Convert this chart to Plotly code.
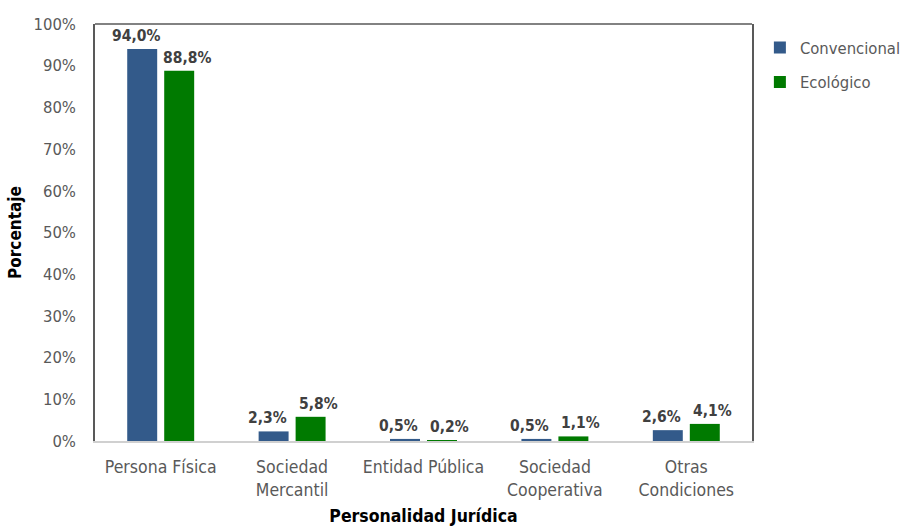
import plotly.graph_objects as go

categories = ["Persona Física", "Sociedad<br>Mercantil", "Entidad Pública",
              "Sociedad<br>Cooperativa", "Otras<br>Condiciones"]
convencional = [94.0, 2.3, 0.5, 0.5, 2.6]
ecologico = [88.8, 5.8, 0.2, 1.1, 4.1]
y_ticks = list(range(0, 101, 10))
y_tick_labels = [f"{v}%" for v in y_ticks]

FONT = "DejaVu Sans Condensed, Liberation Sans Narrow, Arial Narrow, Arial, sans-serif"
GRAY = "#595959"
LABEL_GRAY = "#404040"

series = [("Convencional", convencional, "#335A8A", -25),
          ("Ecológico", ecologico, "#007A00", 26)]

fig = go.Figure()
for name, vals, color, _ in series:
    fig.add_trace(go.Bar(
        name=name, x=categories, y=vals, legendgroup=name,
        marker=dict(color=color, line=dict(width=0)),
        hovertemplate="%{x}: %{y:.1f}%<extra>" + name + "</extra>",
    ))

# value labels above each bar, nudged outward so neighbours don't collide
annotations = []
for name, vals, color, shift in series:
    for cat, v in zip(categories, vals):
        annotations.append(dict(
            x=cat, y=v, xref="x", yref="y", xshift=shift, yshift=2,
            yanchor="bottom", showarrow=False,
            text=f"<b>{v:.1f}%".replace(".", ",") + "</b>",
            font=dict(family=FONT, size=15.5, color=LABEL_GRAY),
        ))

fig.update_layout(
    width=906, height=526,
    margin=dict(l=95, r=154, t=24, b=85, autoexpand=False),
    paper_bgcolor="white", plot_bgcolor="white",
    separators=",.",
    barmode="group", bargap=0.437, bargroupgap=0.19,
    font=dict(family=FONT, color=GRAY),
    legend=dict(x=1.012, y=0.985, xanchor="left", yanchor="top",
                traceorder="grouped", tracegroupgap=10,
                font=dict(family=FONT, size=16.5, color=GRAY),
                itemwidth=30),
    annotations=annotations,
    shapes=[dict(type="line", xref="paper", yref="paper", x0=0, x1=1, y0=1, y1=1,
                 line=dict(color="#595959", width=1.5))],
)
fig.update_xaxes(
    automargin=False,
    showline=True, linecolor="#D0D0D0", linewidth=1.5,
    tickfont=dict(family=FONT, size=17.5, color=GRAY),
    ticklabelstandoff=9,
    title=dict(text="<b>Personalidad Jurídica</b>", standoff=14,
               font=dict(family=FONT, size=17.5, color="black")),
    showgrid=False, ticks="",
)
fig.update_yaxes(
    automargin=False,
    range=[0, 100], tickmode="array", tickvals=y_ticks, ticktext=y_tick_labels,
    tickfont=dict(family=FONT, size=16.5, color=GRAY),
    ticklabelstandoff=14,
    showline=True, mirror=True, linecolor="#595959", linewidth=1.5,
    showgrid=False, zeroline=False, ticks="",
    title=dict(text="<b>Porcentaje</b>", standoff=8,
               font=dict(family=FONT, size=17, color="black")),
)

fig.write_html("out.html")
